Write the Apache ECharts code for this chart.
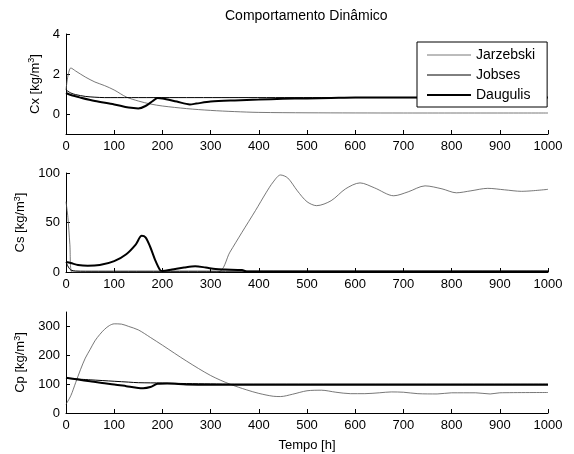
<!DOCTYPE html>
<html>
<head>
<meta charset="utf-8">
<script src="https://cdn.jsdelivr.net/npm/echarts@6/dist/echarts.min.js"></script>
<style>
  html, body { margin: 0; padding: 0; background: #fff; }
  #chart { width: 574px; height: 454px; }
</style>
</head>
<body>
<div id="chart"></div>
<script>
// tempo [h], valores
const xTicks = [0, 100, 200, 300, 400, 500, 600, 700, 800, 900, 1000]

// Cx [kg/m3]
const cxJarzebski = [[0, 1.2], [4, 1.9], [10, 2.3], [20, 2.15], [40, 1.85], [60, 1.6], [80, 1.42], [100, 1.2],
  [125, 0.85], [150, 0.65], [175, 0.5], [200, 0.4], [250, 0.27], [300, 0.18], [350, 0.12], [400, 0.08],
  [500, 0.06], [700, 0.05], [1000, 0.05]]
const cxJobses = [[0, 1.2], [10, 1.05], [20, 0.97], [40, 0.88], [60, 0.84], [80, 0.82], [1000, 0.82]]
const cxDaugulis = [[0, 1.05], [10, 0.95], [30, 0.82], [60, 0.65], [100, 0.48], [130, 0.32], [150, 0.28],
  [165, 0.4], [180, 0.65], [190, 0.8], [200, 0.78], [230, 0.62], [257, 0.48], [270, 0.52], [300, 0.62],
  [350, 0.68], [400, 0.72], [450, 0.76], [500, 0.78], [550, 0.8], [600, 0.82], [1000, 0.82]]

// Cs [kg/m3]
const csJarzebski = [[0, 71], [4, 55], [8, 28], [12, 0], [315, 0], [340, 20], [365, 40], [393, 62], [415, 80],
  [430, 91], [445, 98], [460, 95], [480, 82], [500, 71], [520, 67], [550, 72], [580, 84], [610, 90],
  [640, 85], [680, 77], [710, 81], [745, 87], [780, 84], [810, 80], [840, 82], [875, 84.5], [910, 83],
  [945, 81.5], [1000, 83.5]]
const csJobses = [[0, 10], [5, 5], [10, 2], [20, 1], [40, 0.8], [1000, 0.8]]
const csDaugulis = [[0, 10], [10, 9], [25, 7], [45, 6.2], [70, 7], [100, 11], [125, 18], [145, 28], [157, 36.5],
  [165, 35], [175, 25], [185, 12], [195, 2], [200, 1], [220, 2.5], [245, 4.5], [268, 5.8], [290, 4.5],
  [310, 3], [330, 2.5], [365, 2], [375, 0.5], [1000, 0.5]]

// Cp [kg/m3]
const cpJarzebski = [[0, 30], [10, 60], [20, 105], [30, 150], [40, 190], [50, 220], [60, 250], [70, 272],
  [80, 290], [90, 303], [100, 309], [115, 308], [130, 300], [150, 288], [175, 262], [200, 235], [250, 180],
  [300, 130], [340, 100], [375, 80], [400, 68], [430, 58], [445, 57], [470, 65], [500, 77], [530, 79],
  [560, 72], [590, 67], [620, 67], [650, 70], [675, 73], [700, 72], [730, 67], [770, 66], [800, 70],
  [850, 70], [880, 66], [900, 70], [1000, 71]]
const cpJobses = [[0, 120], [50, 115], [100, 110], [130, 107], [150, 105], [200, 104], [250, 102], [300, 101],
  [350, 100], [1000, 100]]
const cpDaugulis = [[0, 122], [25, 116], [50, 110], [75, 104], [100, 99], [125, 93], [150, 87], [160, 86],
  [175, 90], [190, 101], [210, 102], [250, 99], [300, 98], [400, 98], [1000, 98]]

const cxTicks = [0, 2, 4]
const csTicks = [0, 50, 100]
const cpTicks = [0, 100, 200, 300]

const font = 'Liberation Sans, Arial, sans-serif'
const names = ['Jarzebski', 'Jobses', 'Daugulis']
const lines = {
  Jarzebski: {color: '#555', width: 0.8},
  Jobses: {color: '#000', width: 1},
  Daugulis: {color: '#000', width: 2}
}

function xAxis (idx, withName) {
  return {
    type: 'value',
    gridIndex: idx,
    min: 0,
    max: 1000,
    interval: 100,
    name: withName ? 'Tempo [h]' : '',
    nameLocation: 'middle',
    nameGap: 26,
    nameTextStyle: {color: '#000', fontSize: 13, fontFamily: font},
    axisLine: {onZero: false, lineStyle: {color: '#000', width: 1}},
    axisTick: {inside: true, length: 4, customValues: xTicks, lineStyle: {color: '#000'}},
    axisLabel: {color: '#000', fontSize: 13, fontFamily: font, margin: 6, customValues: xTicks,
      formatter: v => String(v)},
    splitLine: {show: false}
  }
}

function yAxis (idx, min, max, ticks, label, gap) {
  return {
    type: 'value',
    gridIndex: idx,
    min: min,
    max: max,
    name: label + ' [kg/m{sup|3}]',
    nameLocation: 'middle',
    nameGap: gap,
    nameRotate: 90,
    nameTextStyle: {
      color: '#000', fontSize: 13, fontFamily: font,
      rich: {sup: {fontSize: 9, fontFamily: font, color: '#000', padding: [0, 0, 7, 0]}}
    },
    axisLine: {onZero: false, lineStyle: {color: '#000', width: 1}},
    axisTick: {inside: true, length: 4, customValues: ticks, lineStyle: {color: '#000'}},
    axisLabel: {color: '#000', fontSize: 13, fontFamily: font, margin: 6, customValues: ticks},
    splitLine: {show: false}
  }
}

function serie (name, idx, data) {
  return {
    name: name,
    type: 'line',
    xAxisIndex: idx,
    yAxisIndex: idx,
    data: data,
    symbol: 'none',
    smooth: 0.3,
    lineStyle: lines[name],
    itemStyle: {color: lines[name].color},
    animation: false
  }
}

const chart = echarts.init(document.getElementById('chart'), null, {renderer: 'canvas'})
chart.setOption({
  backgroundColor: '#fff',
  title: {
    text: 'Comportamento Dinâmico',
    left: 225,
    top: 9,
    padding: 0,
    textStyle: {color: '#000', fontSize: 14, fontWeight: 'normal', fontFamily: font}
  },
  legend: {
    data: names.map(n => ({name: n, lineStyle: {width: lines[n].width, color: lines[n].color}})),
    orient: 'vertical',
    left: 417,
    top: 42,
    itemWidth: 44,
    itemHeight: 14,
    itemGap: 6,
    padding: [6, 12, 5, 9],
    backgroundColor: '#fff',
    borderColor: '#000',
    borderWidth: 1,
    borderRadius: 0,
    itemStyle: {opacity: 0},
    textStyle: {color: '#000', fontSize: 14, fontFamily: font}
  },
  grid: [
    {left: 66, right: 26, top: 34, height: 100},
    {left: 66, right: 26, top: 173, height: 99},
    {left: 66, right: 26, top: 312, height: 101}
  ],
  xAxis: [xAxis(0, false), xAxis(1, false), xAxis(2, true)],
  yAxis: [
    yAxis(0, -1, 4, cxTicks, 'Cx', 17),
    yAxis(1, 0, 100, csTicks, 'Cs', 29),
    yAxis(2, 0, 350, cpTicks, 'Cp', 29)
  ],
  series: [
    serie('Jarzebski', 0, cxJarzebski),
    serie('Jobses', 0, cxJobses),
    serie('Daugulis', 0, cxDaugulis),
    serie('Jarzebski', 1, csJarzebski),
    serie('Jobses', 1, csJobses),
    serie('Daugulis', 1, csDaugulis),
    serie('Jarzebski', 2, cpJarzebski),
    serie('Jobses', 2, cpJobses),
    serie('Daugulis', 2, cpDaugulis)
  ]
})
</script>
</body>
</html>
